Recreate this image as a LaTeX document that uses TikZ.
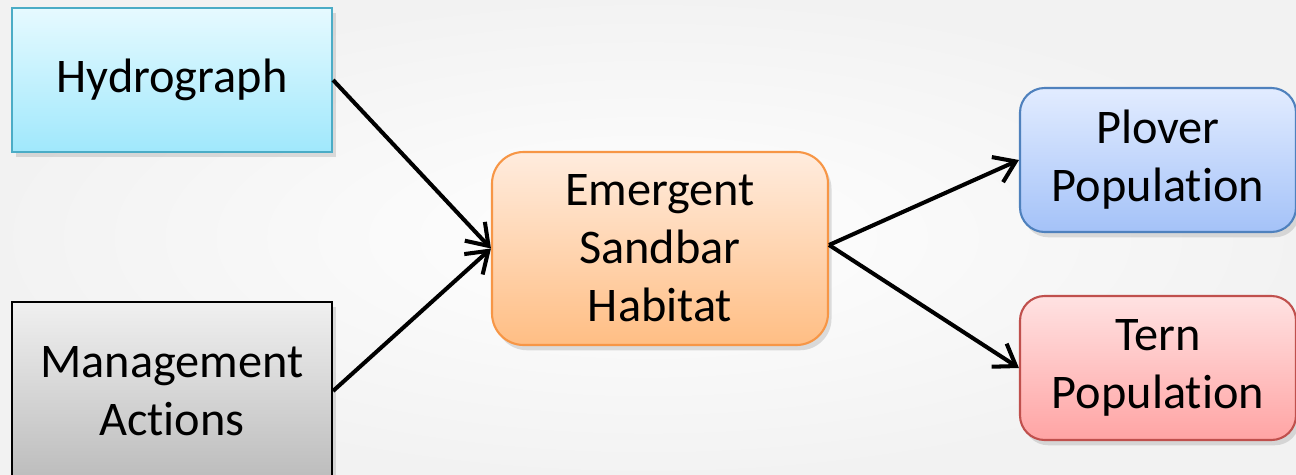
\documentclass[tikz,border=0pt]{standalone}
\usepackage{fontspec}
\setmainfont{Carlito}[Ligatures={NoCommon,NoRare}]
\usepackage{xcolor}
\definecolor{hydtop}{RGB}{230,250,255}
\definecolor{hydbot}{RGB}{160,232,252}
\definecolor{hydline}{RGB}{75,172,198}
\definecolor{mgttop}{RGB}{240,240,240}
\definecolor{mgtbot}{RGB}{188,188,188}
\definecolor{sndtop}{RGB}{255,236,222}
\definecolor{sndbot}{RGB}{255,190,132}
\definecolor{sndline}{RGB}{247,150,70}
\definecolor{plvtop}{RGB}{226,236,255}
\definecolor{plvbot}{RGB}{164,194,248}
\definecolor{plvline}{RGB}{79,129,189}
\definecolor{trntop}{RGB}{255,226,226}
\definecolor{trnbot}{RGB}{255,164,164}
\definecolor{trnline}{RGB}{192,80,77}
\usetikzlibrary{arrows.meta,positioning,shadows}

\begin{document}
\begin{tikzpicture}[>={Straight Barb[length=4mm,width=5.5mm]},
  box/.style={draw,line width=1.2pt,align=center,
              font=\fontsize{27.5}{33}\selectfont,
              drop shadow={opacity=0.25,shadow xshift=2pt,shadow yshift=-3pt}},
  link/.style={->,line width=2.3pt,black}]
  %% Background
  \shade[inner color=white,outer color=black!5]
        (0,0) rectangle (25.92,-9.5);
  \useasboundingbox (0,0) rectangle (25.92,-9.5);
  %% Drivers
  \node[box,draw=hydline,top color=hydtop,bottom color=hydbot,
        minimum width=6.4cm,minimum height=2.88cm]
        (hydro) at (3.44,-1.6) {Hydrograph};
  \node[box,draw=black,top color=mgttop,bottom color=mgtbot,
        minimum width=6.4cm,minimum height=3.56cm]
        (mgmt) at (3.44,-7.82) {Management\\Actions};
  %% Habitat
  \node[box,draw=sndline,top color=sndtop,bottom color=sndbot,rounded corners=18pt,
        minimum width=6.72cm,minimum height=3.86cm]
        (sandbar) at (13.2,-4.97) {Emergent\\Sandbar\\Habitat};
  %% Populations
  \node[box,draw=plvline,top color=plvtop,bottom color=plvbot,rounded corners=14pt,
        minimum width=5.52cm,minimum height=2.88cm]
        (plover) at (23.16,-3.2) {Plover\\Population};
  \node[box,draw=trnline,top color=trntop,bottom color=trnbot,rounded corners=14pt,
        minimum width=5.52cm,minimum height=2.88cm]
        (tern) at (23.16,-7.36) {Tern\\Population};
  %% Arrows
  \draw[link] (hydro.east) -- (sandbar.west);
  \draw[link] (mgmt.east)  -- (sandbar.west);
  \draw[link] ([yshift=2pt]sandbar.east) -- (plover.west);
  \draw[link] ([yshift=2pt]sandbar.east) -- (tern.west);
\end{tikzpicture}
\end{document}
